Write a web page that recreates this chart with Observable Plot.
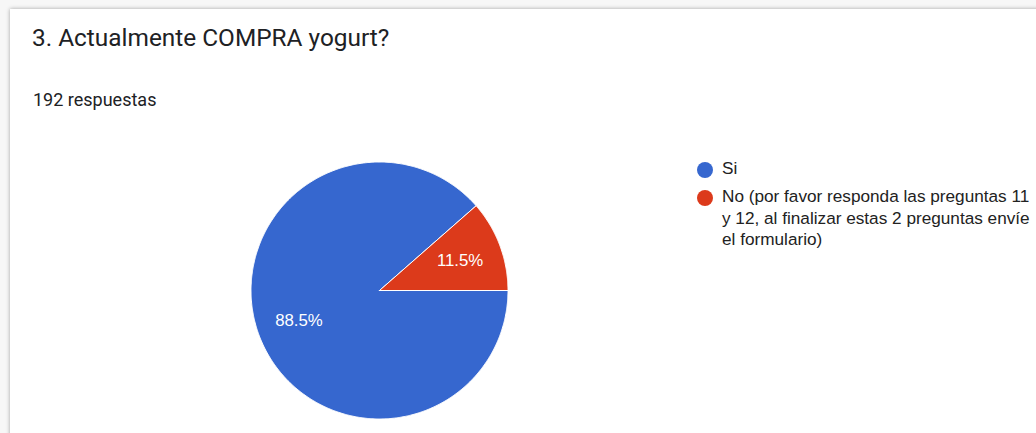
<!DOCTYPE html>
<html>
<head>
<meta charset="utf-8">
<script src="https://cdn.jsdelivr.net/npm/d3@7"></script>
<script src="https://cdn.jsdelivr.net/npm/@observablehq/plot@0.6"></script>
<style>
  html, body { margin: 0; padding: 0; width: 1036px; height: 433px; overflow: hidden; background: #f7f7f7; font-family: Roboto, "Noto Sans", sans-serif; }
  #card { position: absolute; left: 10px; top: 9px; width: 1100px; height: 500px; background: #fff; box-shadow: 0 0 4px rgba(0,0,0,0.35); }
  #title { position: absolute; left: 32px; top: 23px; font-size: 24.4px; color: #202124; white-space: nowrap; }
  #subtitle { position: absolute; left: 33px; top: 89px; font-size: 18px; color: #202124; white-space: nowrap; }
  #chart { position: absolute; left: 0; top: 0; }
  #legend { position: absolute; left: 697px; top: 158px; font-size: 17.2px; color: #222; font-family: "Liberation Sans", Arial, sans-serif; }
  .item { position: relative; padding-left: 25px; line-height: 21.5px; margin-bottom: 6.7px; width: 314px; }
  .sw { position: absolute; left: 0; top: 4px; width: 16px; height: 16px; border-radius: 50%; }
</style>
</head>
<body>
<div id="card"></div>
<div id="title"></div>
<div id="subtitle"></div>
<div id="chart"></div>
<div id="legend"></div>
<script>
const titleText = "3. Actualmente COMPRA yogurt?";
const subtitleText = "192 respuestas";
const categories = ["Si", "No (por favor responda las preguntas 11 y 12, al finalizar estas 2 preguntas envíe el formulario)"];
const counts = [170, 22];
const colors = ["#3667cf", "#dc3a1b"];

document.getElementById("title").textContent = titleText;
document.getElementById("subtitle").textContent = subtitleText;

const total = d3.sum(counts);
// build slice outlines from the data (start at 3 o'clock, clockwise)
const slicePts = [];
const labels = [];
let cum = 0;
categories.forEach((c, i) => {
  const f0 = cum / total, f1 = (cum + counts[i]) / total;
  cum += counts[i];
  slicePts.push({key: c, x: 0, y: 0});
  const n = Math.max(2, Math.ceil((f1 - f0) * 720));
  for (let k = 0; k <= n; k++) {
    const t = -2 * Math.PI * (f0 + (f1 - f0) * k / n);
    slicePts.push({key: c, x: Math.cos(t), y: Math.sin(t)});
  }
  slicePts.push({key: c, x: 0, y: 0});
  const tm = -2 * Math.PI * (f0 + f1) / 2;
  labels.push({key: c, x: 0.67 * Math.cos(tm), y: 0.67 * Math.sin(tm), text: (100 * counts[i] / total).toFixed(1) + "%"});
});

const cx = 379, cy = 290, r = 128.5;
const chart = Plot.plot({
  width: 1036,
  height: 433,
  margin: 0,
  style: {background: "transparent", overflow: "visible"},
  x: {domain: [-1, 1], range: [cx - r, cx + r], axis: null},
  y: {domain: [-1, 1], range: [cy + r, cy - r], axis: null},
  color: {domain: categories, range: colors},
  marks: [
    Plot.line(slicePts, {x: "x", y: "y", z: "key", fill: "key", stroke: "white", strokeWidth: 1, strokeLinejoin: "round", curve: "linear-closed"}),
    Plot.text(labels, {x: "x", y: "y", text: "text", fill: "white", fontSize: 16.8, fontFamily: "'Liberation Sans', Arial, sans-serif"})
  ]
});
document.getElementById("chart").appendChild(chart);

const legend = document.getElementById("legend");
categories.forEach((c, i) => {
  const item = document.createElement("div");
  item.className = "item";
  const sw = document.createElement("span");
  sw.className = "sw";
  sw.style.background = colors[i];
  item.appendChild(sw);
  item.appendChild(document.createTextNode(c));
  legend.appendChild(item);
});
</script>
</body>
</html>
